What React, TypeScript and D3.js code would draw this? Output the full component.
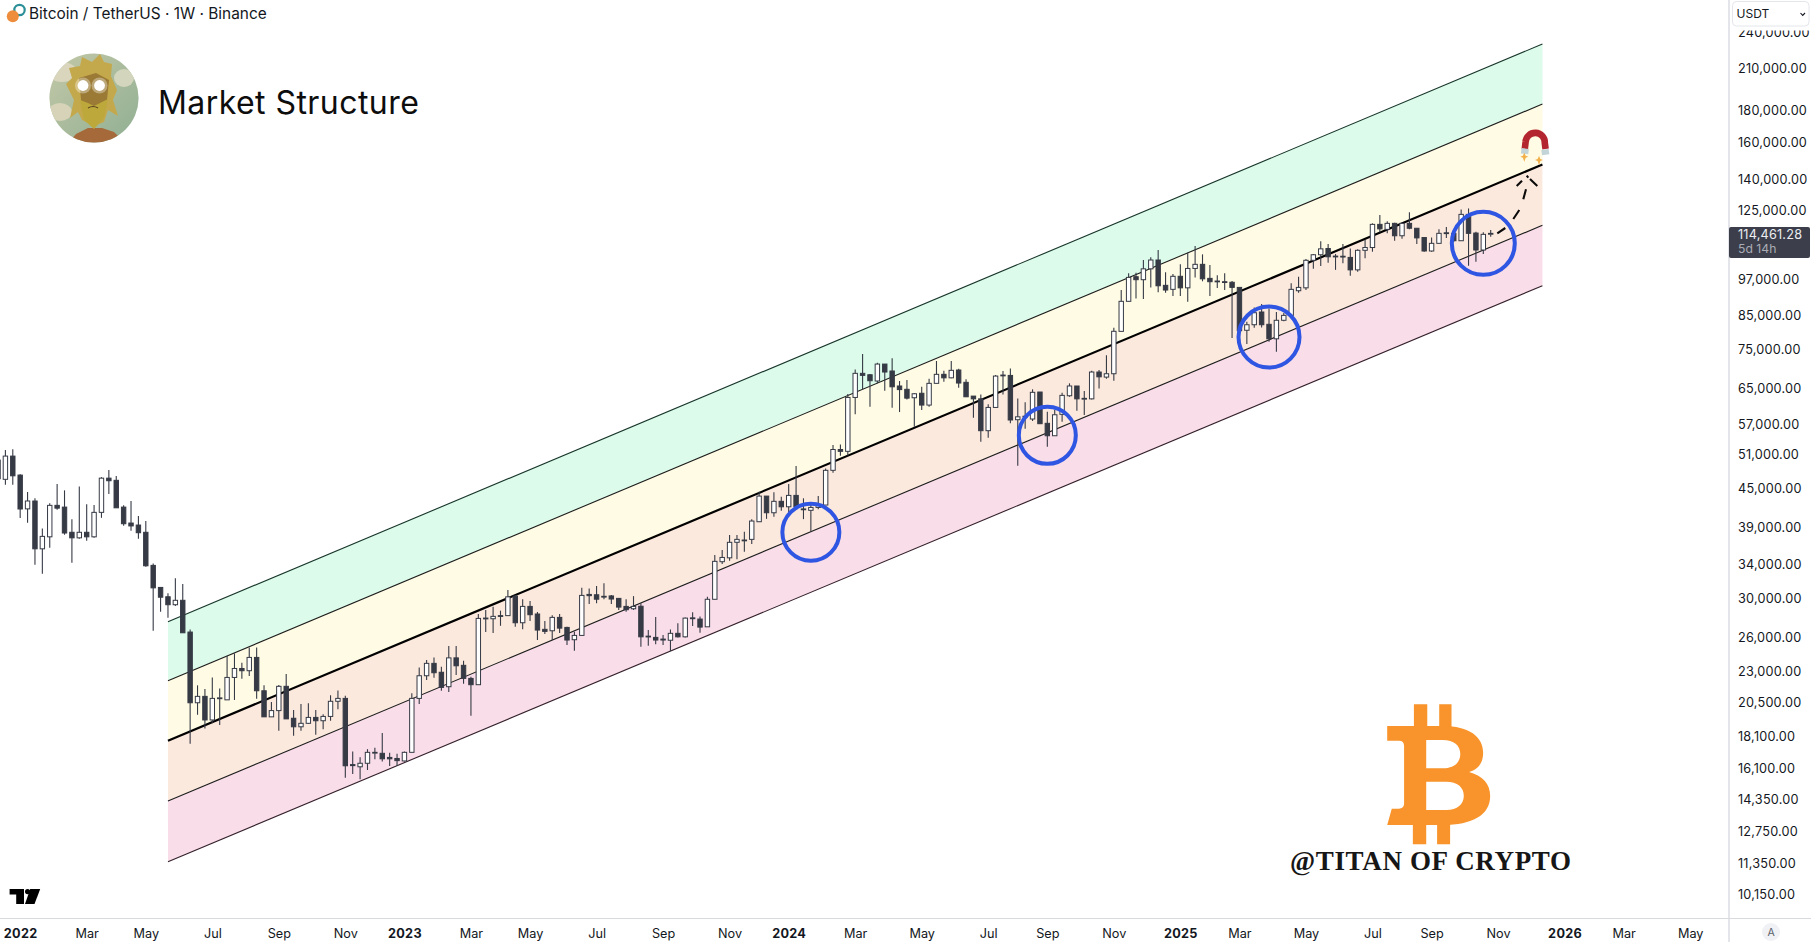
import { useEffect, useRef } from "react"
import * as d3 from "d3"

type Candle = [number, number, number, number] // open, high, low, close

const W = 1811
const H = 942

// weekly candles (first one is the week of 2021-12-13)
const firstWeek = new Date(2021, 11, 13)

const candles2021: Candle[] = [
  [49800, 51300, 44900, 46500],
  [46400, 51670, 45480, 50530],
  [50530, 51800, 45480, 47000],
]

const candles2022: Candle[] = [
  [47130, 47260, 40240, 41610], [41630, 44280, 39560, 42850], [42850, 43280, 33910, 35950], [35950, 38740, 32810, 37630],
  [37570, 42480, 36080, 42170], [42170, 45600, 41500, 41740], [41900, 44560, 37860, 38100], [38200, 40090, 34160, 37430],
  [37430, 45210, 37290, 38200], [38200, 42330, 37030, 37570], [37570, 42220, 37430, 41100], [41100, 46770, 40280, 46600],
  [46600, 48010, 43950, 46160], [46230, 46950, 41790, 41790], [41900, 42200, 39120, 39420], [39520, 42850, 38420, 39100],
  [39230, 40540, 37290, 38140], [38200, 39810, 33650, 33780], [33830, 34080, 26610, 31150], [31200, 31200, 28540, 30100],
  [30150, 30530, 27910, 29280], [29280, 32280, 29150, 29760], [29760, 31590, 26415, 26415], [26485, 26740, 17580, 20430],
  [20430, 21780, 19550, 20915], [20915, 21480, 18590, 19180], [19180, 22420, 18945, 20760], [20770, 21530, 18820, 20800],
  [20650, 24250, 20650, 22420], [22420, 24495, 20640, 23170], [23170, 23660, 22305, 22980], [22980, 25030, 22530, 24130],
  [24130, 25030, 20730, 21350], [21350, 21780, 19400, 19400], [19400, 20490, 19400, 19850], [19850, 21800, 18440, 21700],
  [21700, 22700, 19255, 19255], [19300, 19890, 18100, 18705], [18705, 20335, 18440, 18945], [18945, 20390, 18900, 19360],
  [19360, 19890, 18170, 19125], [19125, 19580, 18535, 19430], [19430, 21000, 19125, 20540], [20540, 21380, 19956, 20760],
  [20760, 20960, 15510, 16210], [16280, 17090, 15725, 16220], [16150, 16730, 15435, 16360], [16360, 17230, 15960, 17030],
  [16990, 17315, 16610, 17030], [16970, 18280, 16460, 16630], [16715, 17005, 16195, 16630], [16650, 16940, 16195, 16520],
]

const candles2023: Candle[] = [
  [16500, 17090, 16460, 17030], [17030, 21150, 17030, 20760], [20760, 23260, 20335, 22560], [22560, 23900, 22210, 23610],
  [23610, 24130, 22390, 22810], [22850, 23310, 21350, 21615], [21670, 25155, 21250, 24090], [24090, 25155, 22620, 23400],
  [23440, 23840, 21910, 22340], [22340, 22470, 19475, 21830], [21830, 28300, 21830, 27845], [27850, 28720, 26480, 27880],
  [27810, 29055, 26385, 28055], [28130, 28650, 27100, 28055], [28130, 30900, 28130, 30140], [30220, 30340, 27000, 27405],
  [27405, 29880, 26770, 29100], [29100, 29680, 27580, 28225], [28300, 28510, 25730, 26680], [26750, 27580, 26290, 26550],
  [26610, 28160, 25730, 27950], [27950, 28300, 26385, 26870], [26940, 27000, 25250, 25720], [25750, 26515, 24730, 26160],
  [26160, 31150, 26160, 30300], [30410, 31080, 29350, 30270], [30370, 31350, 29430, 29880], [30200, 31670, 29870, 30120],
  [30240, 30340, 29350, 29900], [29970, 30000, 28720, 29025], [29100, 29870, 28540, 28750], [28850, 30220, 28720, 29100],
  [29120, 29430, 25090, 26025], [26090, 26680, 25180, 26025], [25970, 27980, 25320, 25720], [25810, 26190, 25250, 25720],
  [25700, 26735, 24700, 26360], [26360, 27345, 25970, 26025], [26025, 27950, 25970, 27875], [27900, 28480, 27070, 27840],
  [27780, 28050, 26415, 26970], [27000, 30140, 27000, 29870], [29870, 35135, 29870, 34335], [34290, 35790, 33990, 34830],
  [34780, 37810, 34410, 36820], [36820, 37810, 34610, 37220], [37130, 38280, 35570, 37040], [37220, 40090, 36585, 39810],
  [39710, 44330, 39710, 43630], [43630, 43630, 40130, 41040], [41040, 44235, 40435, 42800], [42800, 43510, 41350, 41950],
]

const candles2024: Candle[] = [
  [41950, 45600, 41105, 43740], [43740, 48715, 41790, 41950], [41620, 43280, 40090, 41550], [41410, 42530, 38280, 41850],
  [41850, 43630, 41560, 42170], [42220, 48290, 42220, 47960], [47960, 52620, 47530, 51770], [51770, 52750, 50590, 51420],
  [51420, 63450, 50660, 62670], [62670, 69450, 58900, 68470], [68470, 73500, 64530, 67960], [68115, 68310, 60550, 66640],
  [66570, 71190, 66000, 70840], [70840, 70840, 64230, 68800], [69060, 72400, 60320, 65170], [65360, 66570, 59400, 64500],
  [64570, 66810, 62220, 62510], [62600, 63690, 56270, 63525], [63640, 65170, 59840, 60940], [60940, 67100, 60550, 66000],
  [66000, 71640, 66000, 68220], [68220, 69130, 66400, 67350], [67350, 71640, 67270, 69230], [69310, 69650, 64920, 66075],
  [66250, 66980, 62780, 62820], [62980, 62980, 58150, 62350], [62350, 63380, 53270, 55470], [55470, 61100, 54040, 60415],
  [60415, 68040, 60415, 67785], [67930, 69060, 63380, 68040], [67950, 69710, 56990, 57690], [57750, 62435, 48770, 58370],
  [58500, 61555, 55850, 58450], [57900, 64570, 57480, 63860], [63930, 63930, 56910, 56910], [56990, 59470, 52280, 54450],
  [54450, 59840, 54450, 58810], [58900, 63760, 57330, 63150], [63060, 66000, 62820, 65360], [65360, 65360, 59680, 62350],
  [62300, 64160, 58740, 62460], [62350, 69130, 62220, 68800], [68800, 69310, 64770, 67600], [67530, 73140, 67100, 68370],
  [68370, 80925, 66640, 79900], [79880, 92970, 79880, 89190], [89190, 98850, 89190, 97380], [97630, 99070, 90130, 96560],
  [96560, 103800, 89950, 100490], [100490, 104830, 93870, 103800], [103800, 107680, 92190, 94430], [94580, 99240, 92050, 92970],
  [93200, 98590, 90920, 97770],
]

const candles2025: Candle[] = [
  [97770, 102160, 90920, 93720], [93720, 106610, 89060, 100630], [100630, 109240, 97380, 102160], [102160, 105980, 95990, 96870],
  [97030, 101900, 90920, 95850], [96090, 98170, 93700, 96000], [95850, 98850, 92970, 95750], [95650, 96090, 77920, 93870],
  [93870, 93870, 79400, 80070], [80200, 82760, 76240, 81845], [81845, 87220, 80925, 85530], [85760, 88300, 81000, 81845],
  [81970, 86890, 76900, 77720], [77720, 85760, 74130, 83190], [83190, 85450, 82880, 84710], [84710, 95280, 84500, 93200],
  [92730, 97630, 92050, 93870], [93720, 104150, 92970, 103690], [103690, 106100, 100490, 105820], [105820, 111170, 101520, 108140],
  [108280, 110060, 102770, 105030], [105300, 106100, 100110, 105030], [105250, 110060, 102550, 105170], [104790, 108300, 97970, 100110],
  [100110, 107950, 99440, 107560], [107560, 111700, 104510, 108670], [108670, 118750, 107010, 118310], [118310, 122410, 114900, 116370],
  [116150, 119640, 114500, 118750], [118750, 119030, 111410, 113460], [113460, 119030, 112180, 118750], [118750, 123650, 116260, 116640],
  [116640, 116640, 110060, 112580], [112730, 112730, 107010, 107290], [107290, 112730, 107010, 110350], [110350, 116240, 110350, 114480],
  [114700, 117190, 112580, 114480], [114480, 115000, 111000, 111410], [111410, 124960, 111410, 122730], [122730, 125430, 101630, 114480],
  [114600, 115160, 103150, 107680], [107680, 114900, 106100, 114050], [114100, 115880, 113060, 114461],
]

const candles = [...candles2021, ...candles2022, ...candles2023, ...candles2024, ...candles2025]

// price axis
const priceTicks = [
  240000, 210000, 180000, 160000, 140000, 125000, 97000, 85000, 75000, 65000, 57000, 51000, 45000,
  39000, 34000, 30000, 26000, 23000, 20500, 18100, 16100, 14350, 12750, 11350, 10150,
]

// time axis
const timeTickDates = [
  "2022-01-03", "2022-03-07", "2022-05-02", "2022-07-04", "2022-09-05", "2022-11-07",
  "2023-01-02", "2023-03-06", "2023-05-01", "2023-07-03", "2023-09-04", "2023-11-06",
  "2024-01-01", "2024-03-04", "2024-05-06", "2024-07-08", "2024-09-02", "2024-11-04",
  "2025-01-06", "2025-03-03", "2025-05-05", "2025-07-07", "2025-09-01", "2025-11-03",
  "2026-01-05", "2026-03-02", "2026-05-04",
]
const timeTickLabels = [
  "2022", "Mar", "May", "Jul", "Sep", "Nov",
  "2023", "Mar", "May", "Jul", "Sep", "Nov",
  "2024", "Mar", "May", "Jul", "Sep", "Nov",
  "2025", "Mar", "May", "Jul", "Sep", "Nov",
  "2026", "Mar", "May",
]

// channel: price of each line at its two ends, top to bottom
const channelDates = ["2022-05-23", "2025-12-15"]
const channelStart = [27510, 22152, 17774, 14244, 11399]
const channelEnd = [229400, 184000, 147400, 117900, 94440]
const bandColors = ["#dcfbea", "#fffbe4", "#fce9dd", "#f9dde9"]

// the blue circles: week, price, radius
const circleWeeks = ["2024-01-22", "2024-09-02", "2025-03-31", "2025-10-20"]
const circlePrices = [38200, 54530, 78220, 110350]
const circleRadii = [28.5, 28.5, 30.5, 31.5]

const FONT = "Inter, 'Noto Sans', sans-serif"
const INK = "#363a45"
const AXIS_X = 1729
const AXIS_Y = 918.5

export default function App() {
  const ref = useRef<SVGSVGElement>(null)

  useEffect(() => {
    if (!ref.current) return
    const el = ref.current
    d3.select(el).selectAll("*").remove()
    document.body.style.margin = "0"

    const parse = d3.timeParse("%Y-%m-%d")
    const weeks = candles.map((_, i) => d3.timeMonday.offset(firstWeek, i))

    const x = d3
      .scaleTime()
      .domain([new Date(2021, 11, 20), new Date(2025, 9, 27)])
      .range([5.4, 1490.7])

    const y = d3.scaleLog().domain([10150, 240000]).range([893.3, 31.7])

    const svg = d3
      .select(el)
      .attr("viewBox", `0 0 ${W} ${H}`)
      .attr("width", W)
      .attr("height", H)
      .style("display", "block")
      .style("background", "#fff")

    const defs = svg.append("defs")
    defs.append("clipPath").attr("id", "avatar").append("circle").attr("cx", 94).attr("cy", 98).attr("r", 44.6)
    const sky = defs.append("linearGradient").attr("id", "sky").attr("x1", 0).attr("y1", 0).attr("x2", 1).attr("y2", 1)
    sky.append("stop").attr("offset", 0).attr("stop-color", "#c4c9a8")
    sky.append("stop").attr("offset", 1).attr("stop-color", "#8fae92")

    // Channel bands
    const channelX = channelDates.map((d) => x(parse(d) as Date))
    bandColors.forEach((color, b) => {
      const area = d3
        .area<number>()
        .x((_, i) => channelX[i])
        .y0((_, i) => y([channelStart, channelEnd][i][b + 1]))
        .y1((_, i) => y([channelStart, channelEnd][i][b]))
      svg.append("path").datum([0, 1]).attr("fill", color).attr("d", area)
    })

    // Channel lines
    channelStart.forEach((_, l) => {
      const line = d3
        .line<number>()
        .x((_, i) => channelX[i])
        .y((_, i) => y([channelStart, channelEnd][i][l]))
      svg
        .append("path")
        .datum([0, 1])
        .attr("fill", "none")
        .attr("stroke", l === 2 ? "#000" : l === 0 ? "#17352a" : l === 4 ? "#33202a" : "#1d1d1d")
        .attr("stroke-width", l === 2 ? 2.2 : 1.1)
        .attr("d", line)
    })

    // Candles
    const candle = svg
      .append("g")
      .selectAll("g")
      .data(candles)
      .join("g")
      .attr("transform", (_, i) => `translate(${x(weeks[i])},0)`)

    candle
      .append("line")
      .attr("y1", (d) => y(d[1]))
      .attr("y2", (d) => y(d[2]))
      .attr("stroke", INK)
      .attr("stroke-width", 1.1)

    candle
      .append("rect")
      .attr("x", -2.2)
      .attr("width", 4.4)
      .attr("y", (d) => y(Math.max(d[0], d[3])))
      .attr("height", (d) => Math.max(Math.abs(y(d[0]) - y(d[3])), 0.8))
      .attr("fill", (d) => (d[3] >= d[0] ? "#fff" : INK))
      .attr("stroke", INK)
      .attr("stroke-width", 1)

    // Blue circles
    svg
      .append("g")
      .selectAll("circle")
      .data(circleWeeks)
      .join("circle")
      .attr("cx", (d) => x(parse(d) as Date))
      .attr("cy", (_, i) => y(circlePrices[i]))
      .attr("r", (_, i) => circleRadii[i])
      .attr("fill", "none")
      .attr("stroke", "#2f55e3")
      .attr("stroke-width", 4)

    // Hand drawn dashed arrow
    svg
      .append("path")
      .attr(
        "d",
        "M1497.3 233.3L1505.3 228M1513.3 219L1519.3 210M1523.3 199.3L1526 189.3M1516.7 186L1522 180.7M1526.7 175.7L1528.3 177.7M1530 179L1537.3 186"
      )
      .attr("stroke", "#0b0b0b")
      .attr("stroke-width", 2.1)
      .attr("fill", "none")

    // Magnet
    const magnet = svg.append("g").attr("transform", "translate(1535,141)")
    magnet
      .append("path")
      .attr("d", "M-10.2 8L-9.4 1A9.6 9.6 0 1 1 9.8 2L10.6 8")
      .attr("fill", "none")
      .attr("stroke", "#b3262f")
      .attr("stroke-width", 6.6)
    magnet.append("rect").attr("x", -13.8).attr("y", 7.5).attr("width", 7.4).attr("height", 5.4).attr("fill", "#c2d4d8").attr("transform", "rotate(6,-10,10)")
    magnet.append("rect").attr("x", 6.6).attr("y", 8.5).attr("width", 7.4).attr("height", 5.4).attr("fill", "#c2d4d8").attr("transform", "rotate(-8,10,11)")
    magnet.append("path").attr("d", "M-10.7 11.7L-9.3 14.7L-6.7 15.7L-9.3 16.7L-10.7 20.7L-12.1 16.7L-14.7 15.7L-12.1 14.7Z").attr("fill", "#f2b04a")
    magnet.append("path").attr("d", "M4 15L5.4 18L8 19L5.4 20L4 24L2.6 20L0 19L2.6 18Z").attr("fill", "#f2b04a")

    // Price axis
    svg
      .append("line")
      .attr("x1", AXIS_X)
      .attr("x2", AXIS_X)
      .attr("y1", 0)
      .attr("y2", H)
      .attr("stroke", "#d1d4dc")
      .attr("stroke-width", 1.2)

    svg
      .append("g")
      .attr("transform", `translate(${AXIS_X},0.7)`)
      .call(d3.axisRight(y).tickValues(priceTicks).tickSize(0).tickPadding(9).tickFormat((d) => d3.format(",.2f")(d as number)))
      .call((ax) => ax.select(".domain").remove())
      .call((ax) =>
        ax
          .selectAll(".tick text")
          .attr("fill", "#131722")
          .attr("font-size", 12.7)
          .attr("font-family", FONT)
          .attr("letter-spacing", 0.2)
      )

    // USDT box, it covers the top tick
    svg.append("rect").attr("x", 1730).attr("y", 0).attr("width", 81).attr("height", 30.5).attr("fill", "#fff")
    svg
      .append("rect")
      .attr("x", 1732.5)
      .attr("y", 1.5)
      .attr("width", 76.5)
      .attr("height", 24.5)
      .attr("rx", 4)
      .attr("fill", "#fff")
      .attr("stroke", "#e4e6eb")
    svg
      .append("text")
      .attr("x", 1736.5)
      .attr("y", 18)
      .attr("font-family", FONT)
      .attr("font-size", 12)
      .attr("fill", "#131722")
      .text("USDT")
    svg.append("path").attr("d", "M1800.5 13L1802.7 15.4L1805 13").attr("fill", "none").attr("stroke", "#131722").attr("stroke-width", 1.1)

    // Last price tag
    svg.append("rect").attr("x", AXIS_X).attr("y", 227).attr("width", 81).attr("height", 31).attr("rx", 2).attr("fill", "#3c3f4b")
    svg
      .append("text")
      .attr("x", 1738)
      .attr("y", 239.4)
      .attr("font-family", FONT)
      .attr("font-size", 12.7)
      .attr("letter-spacing", 0.2)
      .attr("fill", "#eceef2")
      .text(d3.format(",.2f")(candles[candles.length - 1][3] + 0.28))
    svg
      .append("text")
      .attr("x", 1738)
      .attr("y", 253)
      .attr("font-family", FONT)
      .attr("font-size", 12.2)
      .attr("fill", "#a9abb4")
      .text("5d 14h")

    // Time axis
    svg
      .append("line")
      .attr("x1", 0)
      .attr("x2", W)
      .attr("y1", AXIS_Y)
      .attr("y2", AXIS_Y)
      .attr("stroke", "#d8dae0")
      .attr("stroke-width", 1.1)

    svg
      .append("g")
      .attr("transform", `translate(0,${AXIS_Y})`)
      .call(
        d3
          .axisBottom(x)
          .tickValues(timeTickDates.map((d) => parse(d) as Date))
          .tickSize(0)
          .tickPadding(10)
          .tickFormat((_, i) => timeTickLabels[i])
      )
      .call((ax) => ax.select(".domain").remove())
      .call((ax) =>
        ax
          .selectAll<SVGTextElement, Date>(".tick text")
          .attr("fill", "#131722")
          .attr("font-size", 12.7)
          .attr("font-family", FONT)
          .attr("font-weight", (_, i) => (/^\d/.test(timeTickLabels[i]) ? 700 : 400))
          .attr("letter-spacing", (_, i) => (/^\d/.test(timeTickLabels[i]) ? 0.3 : 0))
      )

    // Auto scale button
    svg.append("circle").attr("cx", 1771).attr("cy", 932).attr("r", 9).attr("fill", "#f0f1f4")
    svg
      .append("text")
      .attr("x", 1771)
      .attr("y", 936)
      .attr("text-anchor", "middle")
      .attr("font-family", FONT)
      .attr("font-size", 10.5)
      .attr("fill", "#5a5e69")
      .text("A")

    // Header
    svg.append("circle").attr("cx", 19.5).attr("cy", 10).attr("r", 5.2).attr("fill", "none").attr("stroke", "#2a8f97").attr("stroke-width", 2.2)
    svg.append("circle").attr("cx", 12.8).attr("cy", 16.2).attr("r", 6).attr("fill", "#ee8e3c")
    svg
      .append("text")
      .attr("x", 29)
      .attr("y", 18.8)
      .attr("font-family", FONT)
      .attr("font-size", 15.4)
      .attr("fill", "#131722")
      .text("Bitcoin / TetherUS · 1W · Binance")

    svg
      .append("text")
      .attr("x", 158)
      .attr("y", 114)
      .attr("font-family", FONT)
      .attr("font-size", 32)
      .attr("letter-spacing", 0.44)
      .attr("fill", "#0d0d0d")
      .text("Market Structure")

    // Avatar
    const avatar = svg.append("g").attr("clip-path", "url(#avatar)")
    avatar.append("rect").attr("x", 48).attr("y", 52).attr("width", 92).attr("height", 92).attr("fill", "url(#sky)")
    avatar.append("ellipse").attr("cx", 62).attr("cy", 72).attr("rx", 15).attr("ry", 10).attr("fill", "#d9d6bd")
    avatar.append("ellipse").attr("cx", 124).attr("cy", 78).attr("rx", 10).attr("ry", 9).attr("fill", "#d3d6bc")
    avatar.append("ellipse").attr("cx", 60).attr("cy", 112).attr("rx", 12).attr("ry", 9).attr("fill", "#d6d3b8")
    avatar.append("path").attr("d", "M66 146L76 134L88 128H102L114 132L128 146Z").attr("fill", "#a5693a")
    avatar
      .append("path")
      .attr("d", "M66 84L72 78L69 68L80 66L82 57L92 62L100 54L104 62L112 64L111 76L117 90L113 100L118 116L108 110L104 122L94 126L82 120L78 112L70 118L74 100Z")
      .attr("fill", "#c4a84c")
    avatar.append("path").attr("d", "M79 78L96 73L109 80L107 100L100 112H88L81 100Z").attr("fill", "#9a7a34")
    avatar.append("path").attr("d", "M80 100L88 103L94 106L100 103L108 99L104 118L94 129L84 120Z").attr("fill", "#bda83c")
    avatar.append("path").attr("d", "M88 108Q93 105 98 108").attr("fill", "none").attr("stroke", "#5a4520").attr("stroke-width", 1.2)
    ;[83, 99.5].forEach((cx) => {
      avatar.append("circle").attr("cx", cx).attr("cy", 85.5).attr("r", 8).attr("fill", "#fff").attr("opacity", 0.35)
      avatar.append("circle").attr("cx", cx).attr("cy", 85.5).attr("r", 5.4).attr("fill", "#fff")
    })

    // Bitcoin sign
    const logo = svg.append("g").attr("transform", "translate(1260,680) scale(0.3514,0.3333)").attr("fill", "#f8942b")
    logo.append("path").attr("d", "M438 73H476V145H438ZM510 73H545V145H510ZM435 430H473V493H435ZM504 430H541V493H504Z")
    logo
      .append("path")
      .attr("fill-rule", "evenodd")
      .attr(
        "d",
        "M362 138H520C595 138 635 170 635 218C635 250 620 268 595 276C635 288 655 312 655 348C655 405 605 435 520 435H362L375 386H395C405 386 410 380 410 370V197C410 188 405 182 395 182H362Z" +
          "M473 180V265H520C552 265 570 248 570 222C570 196 552 180 520 180Z" +
          "M473 305V390H530C562 390 580 372 580 347C580 322 562 305 530 305Z"
      )

    svg
      .append("text")
      .attr("x", 1290)
      .attr("y", 869.5)
      .attr("font-family", "'Liberation Serif', serif")
      .attr("font-weight", 700)
      .attr("font-size", 27)
      .attr("fill", "#161616")
      .attr("textLength", 281)
      .attr("lengthAdjust", "spacing")
      .text("@TITAN OF CRYPTO")

    // TradingView mark
    const tv = svg.append("g").attr("fill", "#000")
    tv.append("path").attr("d", "M9.6 889H24V904H16.2V894.4H9.6Z")
    tv.append("circle").attr("cx", 27.6).attr("cy", 891.6).attr("r", 2.6)
    tv.append("path").attr("d", "M30.2 889H40.2L34.5 904H25Z")
  }, [])

  return <svg ref={ref} />
}
